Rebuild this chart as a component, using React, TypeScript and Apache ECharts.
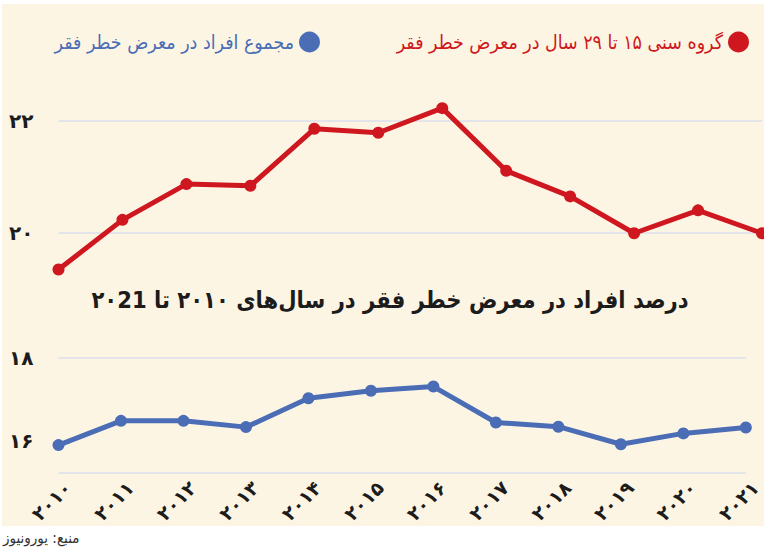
import React, { useEffect, useRef } from "react";
import * as echarts from "echarts";

const years = ["۲۰۱۰", "۲۰۱۱", "۲۰۱۲", "۲۰۱۳", "۲۰۱۴", "۲۰۱۵", "۲۰۱۶", "۲۰۱۷", "۲۰۱۸", "۲۰۱۹", "۲۰۲۰", "۲۰۲۱"];
const youthRisk = [19.34, 20.23, 20.87, 20.84, 21.86, 21.79, 22.23, 21.11, 20.65, 19.99, 20.4, 19.99];
const totalRisk = [15.91, 16.49, 16.49, 16.34, 17.03, 17.21, 17.31, 16.45, 16.35, 15.93, 16.19, 16.33];
const topTicks = [20, 22];
const bottomTicks = [16, 18];

const youthName = "گروه سنی ۱۵ تا ۲۹ سال در معرض خطر فقر";
const totalName = "مجموع افراد در معرض خطر فقر";
const titleText = "درصد افراد در معرض خطر فقر در سال‌های ۲۰۱۰ تا ۲۰21";
const sourceText = "منبع: یورونیوز";

const FA = "DejaVu Sans";
const FA_C = "'DejaVu Sans Condensed', 'DejaVu Sans'";
const RED = "#cf1720";
const BLUE = "#4a6db5";
const GRID = "#e3e5ea";
const CREAM = "#fdf5e4";

const toFa = (n: number) => String(n).replace(/\d/g, (d) => "۰۱۲۳۴۵۶۷۸۹"[Number(d)]);

const legendBase = {
  top: 26.5,
  align: "right",
  icon: "circle",
  itemWidth: 21,
  itemHeight: 21,
  orient: "horizontal",
};

export default function App() {
  const ref = useRef<HTMLDivElement>(null);
  useEffect(() => {
    document.body.style.margin = "0";
    const chart = echarts.init(ref.current!, undefined, { renderer: "svg" });
    const bottomColors = [GRID, ...Array(10).fill("transparent"), GRID];
    chart.setOption({
      animation: false,
      graphic: [
        { type: "rect", z: -100, silent: true, shape: { x: 2, y: 4, width: 762, height: 522 }, style: { fill: CREAM } },
        {
          type: "text",
          x: 390,
          y: 300,
          style: {
            text: titleText,
            fill: "#1c1c1c",
            fontSize: 23.5,
            fontWeight: "bold",
            fontFamily: FA_C,
            align: "center",
            verticalAlign: "middle",
            textAlign: "center",
            textVerticalAlign: "middle",
          },
        },
        {
          type: "text",
          x: 3,
          y: 538,
          style: {
            text: sourceText,
            fill: "#333333",
            fontSize: 15,
            fontFamily: FA_C,
            align: "left",
            verticalAlign: "middle",
            textAlign: "left",
            textVerticalAlign: "middle",
          },
        },
      ],
      legend: [
        {
          ...legendBase,
          right: 10,
          textStyle: { fontSize: 19.4, fontFamily: FA_C, color: RED },
          data: [{ name: youthName }],
        },
        {
          ...legendBase,
          right: 439,
          textStyle: { fontSize: 19.4, fontFamily: FA_C, color: BLUE },
          data: [{ name: totalName }],
        },
      ],
      grid: [
        { left: 58.5, right: 2, top: 121, height: 111.7 },
        { left: 58.5, right: 2, top: 357.7, height: 115 },
      ],
      xAxis: [
        { gridIndex: 0, type: "category", data: years, boundaryGap: false, show: false },
        {
          gridIndex: 1,
          type: "category",
          data: years,
          boundaryGap: false,
          axisLine: { show: false },
          axisTick: { show: false },
          axisLabel: {
            rotate: 45,
            align: "center",
            verticalAlign: "middle",
            padding: [0, 20, 0, 0],
            margin: 21,
            interval: 0,
            fontSize: 19,
            fontWeight: "bold",
            fontFamily: FA,
            color: "#1c1c1c",
          },
        },
      ],
      yAxis: [
        {
          gridIndex: 0,
          type: "value",
          min: 20,
          max: 22,
          interval: 2,
          axisLine: { show: false },
          axisTick: { show: false },
          splitLine: { lineStyle: { color: GRID, width: 2 } },
          axisLabel: {
            formatter: (v: number) => (topTicks.includes(v) ? toFa(v) : ""),
            margin: 25,
            fontSize: 20,
            fontWeight: "bold",
            fontFamily: FA,
            color: "#1c1c1c",
          },
        },
        {
          gridIndex: 1,
          type: "value",
          min: 15.25,
          max: 18,
          interval: 0.25,
          axisLine: { show: false },
          axisTick: { show: false },
          splitLine: { lineStyle: { color: bottomColors, width: 2 } },
          axisLabel: {
            formatter: (v: number) => (bottomTicks.includes(v) ? toFa(v) : ""),
            margin: 25,
            fontSize: 20,
            fontWeight: "bold",
            fontFamily: FA,
            color: "#1c1c1c",
          },
        },
      ],
      series: [
        {
          type: "line",
          name: youthName,
          xAxisIndex: 0,
          yAxisIndex: 0,
          data: youthRisk,
          clip: false,
          symbol: "circle",
          symbolSize: 12,
          lineStyle: { width: 5, color: RED },
          itemStyle: { color: RED },
        },
        {
          type: "line",
          name: totalName,
          xAxisIndex: 1,
          yAxisIndex: 1,
          data: totalRisk,
          clip: false,
          symbol: "circle",
          symbolSize: 12,
          lineStyle: { width: 5, color: BLUE },
          itemStyle: { color: BLUE },
        },
      ],
    });
    return () => chart.dispose();
  }, []);
  return <div ref={ref} style={{ width: 764, height: 560 }} />;
}
